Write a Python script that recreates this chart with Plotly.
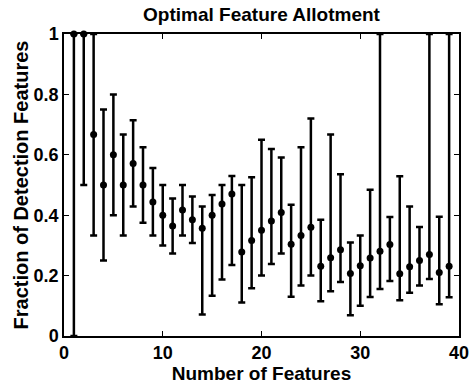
import plotly.graph_objects as go

num_features = list(range(1, 40))
fraction = [1.0, 1.0, 0.667, 0.5, 0.6, 0.5, 0.571, 0.5, 0.444, 0.4,
            0.364, 0.417, 0.385, 0.357, 0.4, 0.4375, 0.47, 0.278, 0.316, 0.35,
            0.381, 0.409, 0.304, 0.333, 0.36, 0.231, 0.259, 0.286, 0.207, 0.233,
            0.258, 0.281, 0.303, 0.206, 0.229, 0.25, 0.27, 0.21, 0.231]
upper = [1.0, 1.0, 1.0, 0.75, 0.8, 0.667, 0.714, 0.625, 0.556, 0.5,
         0.455, 0.5, 0.462, 0.429, 0.467, 0.5, 0.53, 0.5, 0.526, 0.65,
         0.619, 0.591, 0.435, 0.625, 0.72, 0.385, 0.667, 0.536, 0.31, 0.333,
         0.484, 1.0, 0.394, 0.529, 0.429, 0.361, 1.0, 0.395, 1.0]
lower = [0.0, 0.5, 0.333, 0.25, 0.4, 0.333, 0.429, 0.375, 0.333, 0.3,
         0.273, 0.333, 0.308, 0.071, 0.133, 0.1875, 0.235, 0.111, 0.158, 0.2,
         0.238, 0.273, 0.13, 0.167, 0.2, 0.115, 0.148, 0.179, 0.069, 0.1,
         0.129, 0.156, 0.182, 0.118, 0.143, 0.167, 0.189, 0.105, 0.128]

x_ticks = [0, 10, 20, 30, 40]
y_ticks = [0, 0.2, 0.4, 0.6, 0.8, 1]
y_tick_labels = ["0", "0.2", "0.4", "0.6", "0.8", "1"]

err_plus = [u - f for u, f in zip(upper, fraction)]
err_minus = [f - l for f, l in zip(fraction, lower)]

FONT = "Liberation Sans, Arial, Helvetica, sans-serif"

fig = go.Figure(go.Scatter(
    x=num_features, y=fraction, mode="markers",
    marker=dict(color="black", size=7, symbol="circle"),
    error_y=dict(type="data", symmetric=False, array=err_plus, arrayminus=err_minus,
                 color="black", thickness=2.5, width=3.5),
    cliponaxis=False, showlegend=False,
))

fig.update_layout(
    width=471, height=386,
    margin=dict(l=64, r=12, t=34, b=50, autoexpand=False),
    paper_bgcolor="white", plot_bgcolor="white",
    font=dict(family=FONT, color="black"),
    title=dict(text="<b>Optimal Feature Allotment</b>", x=0.5, xanchor="center",
               xref="paper", yref="container", y=1 - 14 / 386, yanchor="middle",
               font=dict(family=FONT, size=19, color="black"), automargin=False),
)
fig.update_xaxes(
    range=[0, 40], tickvals=x_ticks, ticktext=[f"<b>{v}</b>" for v in x_ticks],
    ticks="inside", ticklen=5, tickwidth=1.2, tickcolor="black",
    showline=True, linecolor="black", linewidth=1.5, mirror="ticks",
    showgrid=False, zeroline=False, automargin=False,
    tickfont=dict(family=FONT, size=18, color="black"),
    title=dict(text="<b>Number of Features</b>", standoff=0,
               font=dict(family=FONT, size=19, color="black")),
)
fig.update_yaxes(
    range=[0, 1], tickvals=y_ticks, ticktext=[f"<b>{t}</b>" for t in y_tick_labels],
    ticks="inside", ticklen=5, tickwidth=1.2, tickcolor="black",
    showline=True, linecolor="black", linewidth=1.5, mirror="ticks",
    showgrid=False, zeroline=False, automargin=False,
    tickfont=dict(family=FONT, size=18, color="black"),
    title=dict(text="<b>Fraction of Detection Features</b>", standoff=0,
               font=dict(family=FONT, size=20, color="black")),
)

fig.write_html("out.html", config={"displayModeBar": False},
               post_script="document.body.style.margin='0px';")
